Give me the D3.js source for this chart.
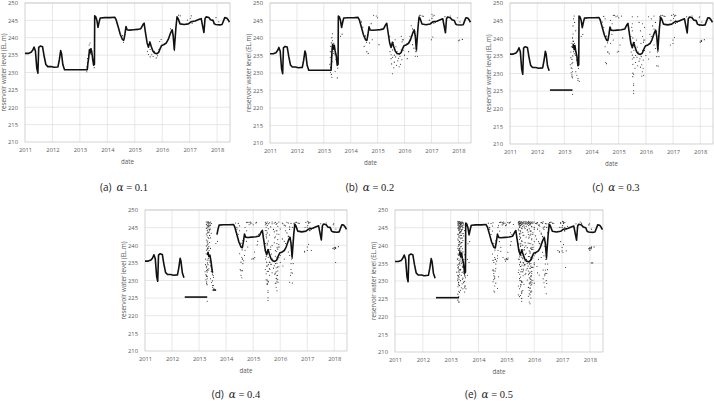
<!DOCTYPE html>
<html>
<head>
<meta charset="utf-8">
<script src="https://cdn.jsdelivr.net/npm/d3@7"></script>
<style>
  body { margin: 0; background: #fff; }
  svg { display: block; }
  text { font-family: "Open Sans", "Liberation Sans", sans-serif; }
</style>
</head>
<body>
<svg id="fig" width="714" height="405"></svg>
<script>
// Axis ticks
const yearTicks = [2011, 2012, 2013, 2014, 2015, 2016, 2017, 2018];
const levelTicks = [210, 215, 220, 225, 230, 235, 240, 245, 250];
const yearRange = [2011, 2018.47];
const levelRange = [210, 250];

// Panel captions
const panelLetters = ["a", "b", "c", "d", "e"];
const alphaValues = ["0.1", "0.2", "0.3", "0.4", "0.5"];

// Main water level line, [decimal year, EL.m]
const earlyLine = [[2011.00,235.5],[2011.12,235.5],[2011.22,235.8],[2011.28,236.4],[2011.33,237.3],[2011.38,236.2],
  [2011.43,231.2],[2011.47,229.8],[2011.50,237.2],[2011.56,237.6],[2011.64,237.4],[2011.70,234.6],[2011.76,232.3],
  [2011.83,231.7],[2011.95,231.7],[2012.05,231.5],[2012.20,231.6],[2012.25,233.6],[2012.30,236.3],[2012.33,235.5],
  [2012.38,232.2],[2012.44,230.8]];
const flatHigh = [[2012.44,230.8],[2013.27,230.8]];
const flatLow = [[2012.47,225.3],[2013.30,225.3]];
const riseAB = [[2013.27,230.8],[2013.29,232.5],[2013.32,234.2],[2013.35,236.6],[2013.37,235.6],[2013.40,236.8],
  [2013.43,236.1],[2013.47,233.8],[2013.50,232.1],[2013.53,232.4]];
const riseCE = [[2013.31,237.2],[2013.33,238.2],[2013.36,236.8],[2013.39,237.9],[2013.42,236.3],[2013.46,235.0],
  [2013.50,232.2],[2013.53,232.5]];
const riseD = [[2013.31,237.2],[2013.33,238.0],[2013.36,236.8],[2013.40,237.2],[2013.44,235.5],[2013.48,233.0],[2013.50,232.2]];
const shelfD = [[2013.50,227.3],[2013.63,227.3]];
const lateLine = [[2013.54,246.3],[2013.58,246.0],[2013.62,245.0],[2013.66,243.0],[2013.70,244.5],[2013.74,245.7],
  [2013.90,245.8],[2014.10,245.8],[2014.27,245.9],[2014.32,245.2],[2014.40,243.0],[2014.47,241.0],[2014.55,239.5],
  [2014.60,239.3],[2014.64,241.0],[2014.68,243.2],[2014.72,242.3],[2014.80,242.2],[2014.95,242.3],[2015.10,242.4],
  [2015.22,242.6],[2015.30,243.8],[2015.34,244.2],[2015.38,242.0],[2015.45,238.5],[2015.50,237.3],[2015.55,238.8],
  [2015.60,237.5],[2015.66,236.2],[2015.72,235.6],[2015.80,235.4],[2015.87,235.8],[2015.92,236.8],[2015.98,237.8],
  [2016.05,238.0],[2016.15,238.5],[2016.22,239.5],[2016.30,241.3],[2016.36,242.3],[2016.40,240.5],[2016.44,236.6],
  [2016.50,243.0],[2016.54,246.0],[2016.58,245.5],[2016.65,244.0],[2016.80,243.8],[2016.95,244.0],[2017.05,244.6],
  [2017.20,244.8],[2017.35,245.3],[2017.42,245.5],[2017.47,243.5],[2017.52,241.5],[2017.56,245.5],[2017.60,246.0],
  [2017.70,245.8],[2017.76,245.2],[2017.85,245.0],[2017.90,244.0],[2017.95,243.8],[2018.10,243.7],[2018.18,243.8],
  [2018.22,244.6],[2018.28,245.8],[2018.35,245.7],[2018.40,245.2],[2018.45,244.5]];

// Scattered points added at each alpha, [decimal year, [levels]]
const dotsA = [[2013.25,[230.2,231.6]],[2013.28,[232.8,234.0]],[2013.31,[235.0,233.2]],[2013.34,[236.2,237.9]],
  [2013.37,[238.5,235.6]],[2013.41,[235.2,236.8]],[2013.45,[233.8]],[2013.49,[233.1]],[2013.52,[231.4]],
  [2014.55,[240.6]],[2014.59,[238.7]],[2015.46,[236.1]],[2015.50,[235.2]],[2015.56,[236.6,234.5]],[2015.62,[235.1]],
  [2015.67,[234.6]],[2015.72,[236.1]],[2015.78,[234.2]],[2015.83,[234.8]],[2015.88,[236.6]],[2015.91,[238.9]],
  [2015.96,[239.5]],[2016.30,[242.6]],[2016.38,[241.9]],[2016.45,[236.3,237.1]],[2016.60,[246.5]],[2016.66,[246.3]],
  [2016.92,[245.1]],[2017.02,[245.6]],[2017.06,[246.3]],[2017.09,[244.2]],[2017.96,[245.8]],[2018.06,[244.6]]];
const dotsB = [[2013.22,[232.5]],[2013.24,[236.1,234.5]],[2013.26,[237.6]],[2013.28,[238.6,229.6]],[2013.30,[240.1,228.8]],
  [2013.32,[241.2,239.2]],[2013.42,[230.5]],[2013.50,[228.6]],[2013.62,[240.5]],[2013.68,[241.1]],[2014.40,[244.6]],
  [2014.45,[243.1]],[2014.50,[240.5,237.6]],[2014.60,[236.1]],[2014.65,[235.6]],[2014.70,[238.6]],[2014.76,[244.1]],
  [2014.80,[239.5]],[2014.85,[246.5]],[2014.95,[246.3]],[2015.00,[245.8]],[2015.05,[238.1]],[2015.45,[240.5]],
  [2015.50,[234.1]],[2015.52,[232.6]],[2015.55,[229.8]],[2015.58,[238.8]],[2015.60,[231.5]],[2015.62,[233.1]],
  [2015.65,[239.5]],[2015.68,[237.5]],[2015.70,[232.2]],[2015.75,[233.5]],[2015.80,[231.8]],[2015.85,[232.5]],
  [2015.88,[240.5]],[2015.90,[233.8]],[2015.92,[239.5]],[2015.95,[236.5]],[2016.00,[235.1]],[2016.10,[234.1]],
  [2016.15,[236.1]],[2016.20,[240.5]],[2016.25,[243.5]],[2016.30,[238.1]],[2016.35,[237.1]],[2016.40,[234.8]],
  [2016.42,[236.1]],[2016.48,[234.8]],[2016.55,[246.5]],[2016.70,[246.2]],[2017.00,[239.5]],[2017.02,[246.8]],
  [2017.05,[240.3]],[2017.10,[246.5]],[2017.15,[244.5]],[2017.50,[246.1]],[2017.70,[246.3]],[2018.00,[239.2]],
  [2018.05,[239.4]],[2018.15,[239.6]]];
const dotsC = [[2013.28,[229.1,231.5]],[2013.30,[224.1,230.5]],[2013.32,[243.5]],[2013.33,[239.1]],[2013.34,[245.5]],
  [2013.36,[246.3]],[2013.38,[244.5]],[2013.42,[242.1]],[2013.46,[229.5]],[2013.50,[228.1]],[2013.55,[227.8]],
  [2014.45,[246.2]],[2014.50,[245.5]],[2014.52,[233.1]],[2014.55,[232.8]],[2014.60,[236.1]],[2014.70,[245.1]],
  [2014.75,[241.1]],[2014.80,[246.5]],[2014.90,[246.1]],[2014.95,[236.1]],[2015.00,[236.3]],[2015.10,[246.3]],
  [2015.15,[240.1]],[2015.48,[243.1]],[2015.50,[246.1,244.1,242.1]],[2015.52,[240.1,230.1,229.1]],
  [2015.55,[227.1,226.6,225.1,224.3]],[2015.70,[246.1]],[2015.75,[244.5]],[2015.80,[242.1]],[2015.82,[238.5]],
  [2015.85,[229.3]],[2015.87,[230.5]],[2015.88,[244.1]],[2015.90,[231.5]],[2015.92,[229.5]],[2015.95,[243.1]],
  [2016.10,[246.1]],[2016.15,[241.1]],[2016.20,[245.5]],[2016.30,[246.3]],[2016.35,[244.5]],[2016.40,[232.2]],
  [2016.45,[232.1]],[2016.50,[246.1]],[2016.90,[238.1]],[2016.95,[246.5]],[2017.00,[238.5]],[2017.05,[246.3]],
  [2017.10,[245.1]],[2017.98,[246.1]],[2018.00,[238.8]],[2018.05,[239.1]]];
const dotsD = [[2013.27,[246.6,245.9,244.8,243.2,241.5,239.8,233.6,231.2]],
  [2013.30,[246.4,245.6,245.1,244.2,242.7,240.9,238.9,235.8,232.4,231.1]],
  [2013.33,[246.7,246.1,245.4,244.6,243.8,242.2,240.4,234.5,232.9]],[2013.36,[246.5,245.8,245.2,243.6,241.9,239.6,233.3]],
  [2013.39,[246.3,245.5,244.1,242.8,240.8]],[2013.42,[246.6,245.7,244.6,239.1,234.2]],[2013.45,[246.2,243.4,232.6]],
  [2013.50,[231.8,229.9]],[2013.53,[228.6,230.9]],[2014.35,[246.3]],[2014.40,[245.1]],[2014.50,[244.1]],
  [2014.55,[231.5,235.2]],[2014.58,[230.8,236.6]],[2014.60,[232.8]],[2014.62,[234.8,241.3]],[2014.68,[237.1]],
  [2014.75,[246.5]],[2014.85,[245.8]],[2014.90,[246.6]],[2015.02,[236.1]],[2015.06,[236.5]],[2015.12,[246.5]],
  [2015.17,[241.1]],[2015.20,[243.1]],[2015.45,[246.5,245.8,244.2,238.4,233.1]],
  [2015.48,[246.2,245.1,242.6,236.8,231.9,230.2]],[2015.52,[246.6,245.6,243.5,240.6,234.1,228.9]],
  [2015.56,[246.1,244.7,241.2,232.6,229.6]],[2015.60,[246.4,242.9,235.2,233.4]],[2015.65,[245.2,238.8,234.6]],
  [2015.70,[246.6,239.9]],[2015.78,[246.3,243.8,240.7]],[2015.82,[246.5,242.4,236.9,232.1,229.2]],
  [2015.85,[245.9,244.1,238.2,233.6,230.6,228.1]],[2015.88,[246.2,243.2,239.3,234.9,231.4,229.8,227.1]],
  [2015.91,[245.4,241.6,236.1,232.7,230.3]],[2015.95,[246.6,240.2,233.9]],[2016.00,[244.6,237.1]],
  [2016.08,[246.3,241.8]],[2016.15,[245.7]],[2016.20,[244.1]],[2016.25,[246.5]],[2016.30,[242.5]],
  [2016.35,[229.5,245.2]],[2016.38,[231.5]],[2016.40,[233.1,246.2]],[2016.45,[245.1,229.3]],[2016.90,[238.3]],
  [2017.00,[245.1]],[2017.05,[246.6]],[2017.10,[244.1]],[2017.15,[238.5]],[2017.95,[239.1]],[2018.00,[239.4]],
  [2018.05,[235.1]]];
const dotsE = [[2013.26,[246.8,246.3,245.7,244.9,243.1,241.8,239.2,236.4,233.8,230.6,228.4,226.3,224.6]],
  [2013.29,[246.6,246.1,245.3,244.4,242.4,240.3,237.2,234.7,229.5,227.1,225.6,224.1]],
  [2013.32,[246.7,246.2,245.5,244.7,243.6,241.1,238.6,235.3,231.9,228.7,226.8]],
  [2013.35,[246.4,245.9,245.0,243.9,242.9,240.7,236.9,233.2,230.1,227.4]],
  [2013.38,[246.6,246.0,244.2,242.1,239.8,234.9,231.6,228.1]],[2013.41,[246.3,245.4,243.3,240.9,237.6,232.4,229.2]],
  [2013.44,[246.5,245.1,241.4,238.2,233.9,230.8,227.8]],[2013.47,[245.8,242.7,236.1,232.2,229.7]],
  [2013.50,[244.2,237.4,231.5,226.9]],[2013.53,[239.6,233.7]],[2013.60,[236.1,231.6]],[2013.66,[235.2]],
  [2014.52,[246.4,235.8,233.1,229.8]],[2014.55,[232.1,230.4,227.2]],[2014.58,[231.2,228.6,226.9]],
  [2014.62,[233.5,229.4]],[2014.68,[236.4,227.9]],[2014.72,[245.7,231.2]],[2014.80,[246.6,238.4]],
  [2014.88,[246.2,236.6]],[2014.97,[245.6,235.6]],[2015.05,[246.5,236.1]],[2015.15,[246.6,243.6]],[2015.25,[245.9]],
  [2015.43,[246.7,246.4,246.1,244.6,240.3,236.2,232.4,228.6,226.1]],
  [2015.47,[246.8,246.3,245.8,245.3,243.4,241.7,238.8,234.6,230.7,227.8,225.6]],
  [2015.51,[246.6,246.2,245.6,244.1,242.2,239.7,235.4,231.1,228.4,225.9]],
  [2015.55,[246.7,246.4,245.9,244.9,241.3,237.1,233.3,229.9,226.6]],
  [2015.59,[246.5,246.1,245.4,243.7,240.1,236.3,232.6,227.3]],[2015.63,[246.8,246.3,245.7,242.9,238.7,234.3,229.1]],
  [2015.67,[246.6,246.1,244.8,240.8,235.7,231.8]],[2015.71,[246.7,246.2,245.4,242.4,237.8,233.1]],
  [2015.75,[246.5,246.0,244.3,239.4,234.9,230.3]],[2015.79,[246.8,246.3,245.6,243.1,236.9,232.8,228.2,225.7]],
  [2015.82,[246.6,246.1,244.7,240.6,235.1,230.9,227.4,226.4,224.1]],
  [2015.85,[246.4,245.8,242.9,237.8,233.6,229.6,227.9,226.1,223.6]],
  [2015.88,[246.7,246.2,244.1,239.2,234.2,231.2,228.8,226.8,225.2]],
  [2015.91,[246.5,245.3,241.9,236.3,232.2,229.1,227.2]],[2015.95,[246.3,243.6,238.9,233.8,230.2]],
  [2016.00,[246.6,245.1,241.1,234.6,229.4]],[2016.05,[246.2,242.7,237.7]],[2016.12,[246.5,244.6,232.3]],
  [2016.18,[245.8,240.6,231.7]],[2016.25,[246.4,243.2,236.6]],[2016.32,[246.7,244.9,233.1,230.6]],
  [2016.38,[245.3,239.8,231.9,228.3]],[2016.43,[246.1,236.1,230.1,226.4]],[2016.48,[243.6,233.2]],
  [2016.60,[246.6]],[2016.85,[238.6]],[2016.95,[246.2,241.1]],[2017.03,[246.7,238.1]],[2017.12,[233.8]],
  [2017.20,[245.4]],[2017.65,[246.6]],[2018.00,[239.2,238.6]],[2018.05,[239.6]],[2018.10,[235.1]]];

const dotSets = [dotsA, dotsB, dotsC, dotsD, dotsE];

// Which line pieces each panel draws
const lineSegments = [
  [earlyLine.concat(flatHigh, riseAB, lateLine)],
  [earlyLine.concat(flatHigh, riseCE, lateLine)],
  [earlyLine, flatLow, riseCE.concat(lateLine)],
  [earlyLine, flatLow, riseD, shelfD, lateLine.filter(d => d[0] >= 2013.66)],
  [earlyLine, flatLow, riseCE.concat(lateLine)]
];

// Panel placement
const layout = [
  { left: 25,  top: 3,   right: 230, bottom: 142, capX: 124, capY: 191 },
  { left: 270, top: 3,   right: 471, bottom: 143, capX: 370, capY: 191 },
  { left: 510, top: 3,   right: 713, bottom: 144, capX: 616, capY: 191 },
  { left: 145, top: 210, right: 347, bottom: 351, capX: 236, capY: 398 },
  { left: 395, top: 210, right: 603, bottom: 352, capX: 489, capY: 398 }
];

const svg = d3.select("#fig");

layout.forEach((p, i) => {
  const x = d3.scaleLinear().domain(yearRange).range([p.left, p.right]);
  const y = d3.scaleLinear().domain(levelRange).range([p.bottom, p.top]);
  const g = svg.append("g");

  // gridlines
  g.selectAll(".hg").data(levelTicks.slice(1)).enter().append("line")
    .attr("x1", p.left).attr("x2", p.right)
    .attr("y1", d => y(d)).attr("y2", d => y(d))
    .attr("stroke", "#d9d9d9").attr("stroke-width", 0.6);
  g.selectAll(".vg").data(yearTicks.slice(1)).enter().append("line")
    .attr("x1", d => x(d)).attr("x2", d => x(d))
    .attr("y1", p.top).attr("y2", p.bottom)
    .attr("stroke", "#d9d9d9").attr("stroke-width", 0.6);
  g.append("rect")
    .attr("x", p.left).attr("y", p.top)
    .attr("width", p.right - p.left).attr("height", p.bottom - p.top)
    .attr("fill", "none").attr("stroke", "#bfbfbf").attr("stroke-width", 0.7);

  // axes
  const xAxis = g.append("g").attr("transform", `translate(0,${p.bottom})`)
    .call(d3.axisBottom(x).tickValues(yearTicks).tickFormat(d3.format("d")).tickSize(0).tickPadding(6));
  const yAxis = g.append("g").attr("transform", `translate(${p.left},0)`)
    .call(d3.axisLeft(y).tickValues(levelTicks).tickSize(0).tickPadding(7));
  [xAxis, yAxis].forEach(a => {
    a.select(".domain").remove();
    a.selectAll("text").attr("font-size", 5.8).attr("fill", "#595959")
      .style("font-family", '"Open Sans", sans-serif');
  });

  // axis titles
  g.append("text")
    .attr("transform", `translate(${p.left - 21},${(p.top + p.bottom) / 2}) rotate(-90)`)
    .attr("text-anchor", "middle").attr("dy", "0.35em")
    .attr("font-size", 6.2).attr("fill", "#595959")
    .text("reservoir water level (EL.m)");
  g.append("text")
    .attr("x", (p.left + p.right) / 2).attr("y", p.bottom + 20)
    .attr("text-anchor", "middle").attr("dy", "0.35em")
    .attr("font-size", 6.2).attr("fill", "#595959")
    .text("date");

  // scattered points (cumulative with alpha)
  const pts = [];
  dotSets.slice(0, i + 1).forEach(set => set.forEach(c => c[1].forEach(v => pts.push([c[0], v]))));
  g.selectAll(".pt").data(pts).enter().append("circle")
    .attr("cx", d => x(d[0])).attr("cy", d => y(d[1]))
    .attr("r", 0.55).attr("fill", "#222");

  // water level line
  const line = d3.line().x(d => x(d[0])).y(d => y(d[1]));
  g.selectAll(".seg").data(lineSegments[i]).enter().append("path")
    .attr("d", line).attr("fill", "none")
    .attr("stroke", "#111").attr("stroke-width", 1.6)
    .attr("stroke-linejoin", "round");

  // caption
  const cap = g.append("text").attr("x", p.capX).attr("y", p.capY)
    .attr("text-anchor", "middle").attr("fill", "#222");
  cap.append("tspan").attr("font-size", 10).text(`(${panelLetters[i]})`);
  cap.append("tspan").attr("font-size", 10.5).attr("dx", 5)
    .style("font-family", '"DejaVu Serif", serif').style("font-style", "italic").text("α");
  cap.append("tspan").attr("font-size", 10.5)
    .style("font-family", '"Liberation Serif", serif').text(` = ${alphaValues[i]}`);
});
</script>
</body>
</html>
